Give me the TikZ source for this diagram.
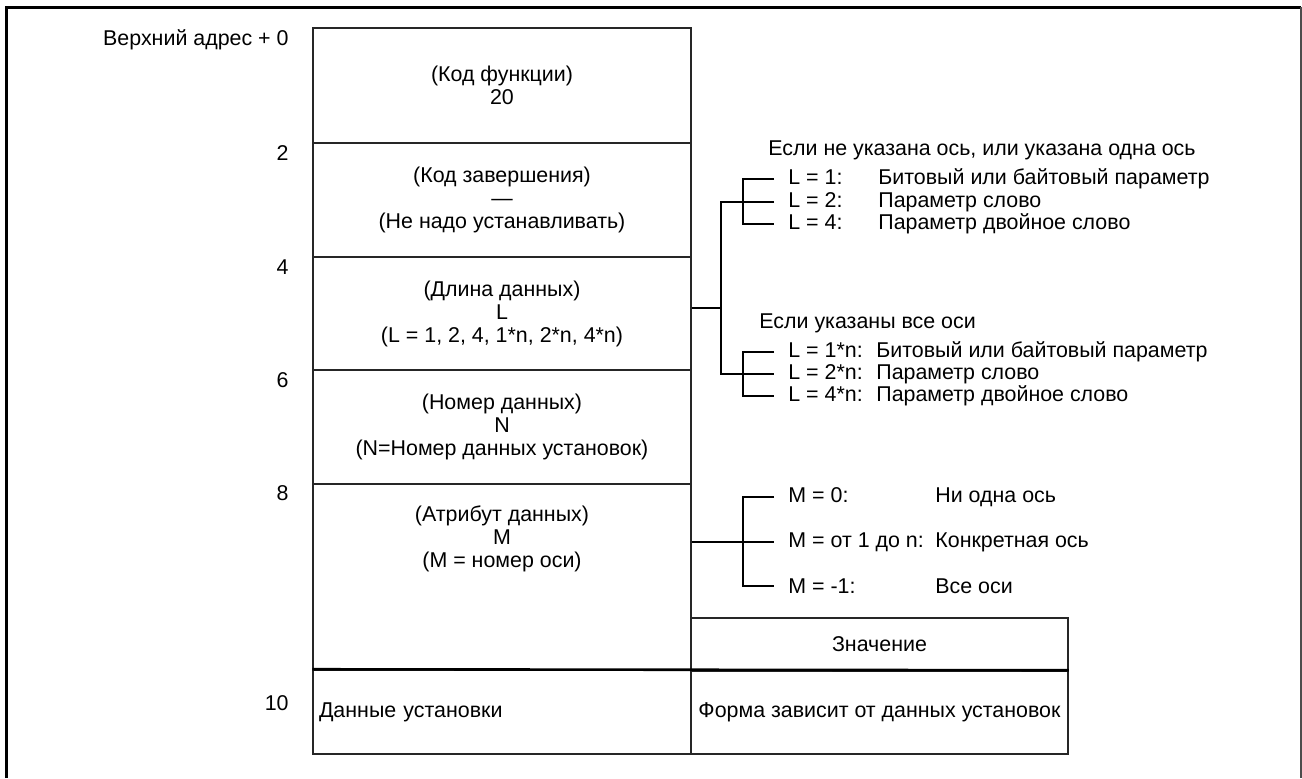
\documentclass[tikz,border=0pt]{standalone}
\usepackage{fontspec}
\setmainfont{Liberation Sans}
\usetikzlibrary{positioning}

\begin{document}
\begin{tikzpicture}[x=0.5pt,y=-0.5pt,
  font=\fontsize{10.7pt}{11.5pt}\selectfont,
  cell/.style={draw=black!85,line width=0.75pt,minimum width=189pt,inner sep=0pt,align=center},
  txt/.style={inner sep=0pt,align=center},
  addr/.style={anchor=east,inner sep=0pt},
  head/.style={anchor=west,inner sep=0pt},
  key/.style={anchor=west,inner xsep=7pt,inner ysep=0pt},
  link/.style={line width=0.7pt}]
\useasboundingbox (0,0) rectangle (1302,778);
% frame
\draw[line width=1.5pt] (6,778) -- (6,7) -- (1301,7);
\draw[black!70,line width=0.6pt] (1301,7) -- (1301,778);
% addresses
\node[addr] (a0) at (289,40) {Верхний адрес + 0};
\node[addr] (a2) at (289,153) {2};
\node[addr] (a4) at (289,267) {4};
\node[addr] (a6) at (289,380) {6};
\node[addr] (a8) at (289,493) {8};
\node[addr] (a10) at (289,703) {10};
% data block
\node[cell,minimum height=57.5pt] (fn) at (502,85.5) {(Код функции)\\20};
\node[cell,minimum height=57pt] (done) at (502,200) {(Код завершения)\\—\\(Не надо устанавливать)};
\node[cell,minimum height=56.5pt] (len) at (502,313.5) {(Длина данных)\\L\\(L = 1, 2, 4, 1*n, 2*n, 4*n)};
\node[cell,minimum height=57pt] (num) at (502,427) {(Номер данных)\\N\\(N=Номер данных установок)};
\node[cell,minimum height=93pt] (attr) at (502,577) {};
\node[txt] (attrtxt) at (502,539) {(Атрибут данных)\\M\\(M = номер оси)};
\node[cell,minimum height=42pt,text width=183pt,inner xsep=3pt,align=left] (data) at (502,712) {Данные установки};
\node[cell,minimum width=188.5pt,minimum height=26.5pt] (val) at (879.5,644.5) {Значение};
\node[cell,minimum width=188.5pt,minimum height=41.5pt] (form) at (879.5,712.5) {Форма зависит от данных установок};
\draw[line width=1.3pt] (data.north west) -- (form.north east);
% length choices
\node[head] (hd1) at (768,150) {Если не указана ось, или указана одна ось};
\node[key] (l1) at (774,179) {\makebox[45pt][l]{L = 1:}Битовый или байтовый параметр};
\node[key] (l2) at (774,202) {\makebox[45pt][l]{L = 2:}Параметр слово};
\node[key] (l4) at (774,224) {\makebox[45pt][l]{L = 4:}Параметр двойное слово};
\node[head] (hd2) at (759,323) {Если указаны все оси};
\node[key] (ln1) at (774,352) {\makebox[44pt][l]{L = 1*n:}Битовый или байтовый параметр};
\node[key] (ln2) at (774,374) {\makebox[44pt][l]{L = 2*n:}Параметр слово};
\node[key] (ln4) at (774,396) {\makebox[44pt][l]{L = 4*n:}Параметр двойное слово};
% axis choices
\node[key] (m0) at (774,497) {\makebox[73.5pt][l]{M = 0:}Ни одна ось};
\node[key] (m1) at (774,542) {\makebox[73.5pt][l]{M = от 1 до n:}Конкретная ось};
\node[key] (m2) at (774,586) {\makebox[73.5pt][l]{M = -1:}Все оси};
% brackets
\coordinate (lj) at (721,308);
\draw[link] (len.east |- lj) -- (lj);
\draw[link] (l2.west) -| (lj) |- (ln2.west);
\draw[link] (l1.west) -- ++(-31,0) |- (l4.west);
\draw[link] (ln1.west) -- ++(-31,0) |- (ln4.west);
\draw[link] (attr.east |- m1.west) -- (m1.west);
\draw[link] (m0.west) -- ++(-31,0) |- (m2.west);
\end{tikzpicture}
\end{document}
